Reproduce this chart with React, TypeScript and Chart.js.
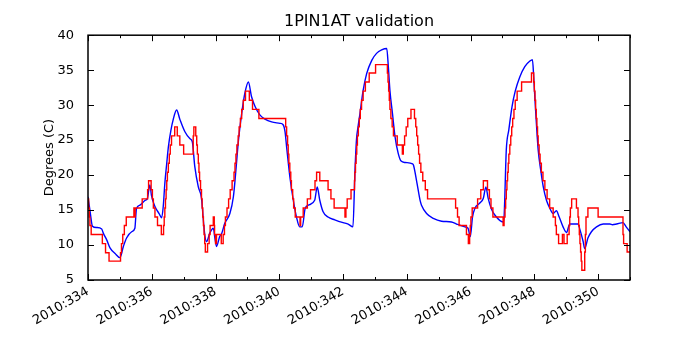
import { useEffect, useRef } from 'react';
import { Chart, registerables } from 'chart.js';

Chart.register(...registerables);

const chartTitle = '1PIN1AT validation';
const yAxisLabel = 'Degrees (C)';
const xTickDays = [334, 336, 338, 340, 342, 344, 346, 348, 350];
const yTickValues = [5, 10, 15, 20, 25, 30, 35, 40];

const redDays = [
  334.00, 334.02, 334.04, 334.06, 334.10, 334.45, 334.55, 334.66, 335.02, 335.05,
  335.09, 335.14, 335.20, 335.44, 335.46, 335.48, 335.70, 335.87, 335.90, 335.98,
  336.02, 336.05, 336.10, 336.18, 336.30, 336.37, 336.39, 336.41, 336.43, 336.45,
  336.47, 336.49, 336.52, 336.55, 336.58, 336.62, 336.72, 336.80, 336.88, 337.00,
  337.30, 337.32, 337.38, 337.41, 337.43, 337.46, 337.48, 337.50, 337.53, 337.56,
  337.58, 337.60, 337.62, 337.64, 337.66, 337.68, 337.75, 337.80, 337.83, 337.93,
  337.96, 337.97, 338.00, 338.03, 338.18, 338.24, 338.28, 338.31, 338.36, 338.41,
  338.46, 338.52, 338.58, 338.61, 338.64, 338.67, 338.71, 338.74, 338.78, 338.82,
  338.87, 338.94, 339.06, 339.16, 339.36, 340.20, 340.23, 340.26, 340.28, 340.30,
  340.33, 340.36, 340.38, 340.42, 340.45, 340.50, 340.65, 340.67, 340.75, 340.88,
  340.98, 341.12, 341.17, 341.27, 341.53, 341.62, 341.72, 342.06, 342.09, 342.13,
  342.25, 342.36, 342.37, 342.39, 342.41, 342.43, 342.45, 342.48, 342.51, 342.54,
  342.58, 342.63, 342.70, 342.82, 343.02, 343.39, 343.41, 343.43, 343.45, 343.47,
  343.50, 343.54, 343.58, 343.70, 343.86, 343.89, 343.93, 343.98, 344.03, 344.13,
  344.24, 344.28, 344.31, 344.34, 344.37, 344.40, 344.44, 344.50, 344.58, 344.65,
  345.53, 345.59, 345.64, 345.87, 345.93, 345.97, 345.99, 346.01, 346.05, 346.22,
  346.32, 346.40, 346.53, 346.59, 346.64, 346.70, 347.02, 347.05, 347.08, 347.10,
  347.12, 347.14, 347.16, 347.18, 347.20, 347.23, 347.26, 347.29, 347.32, 347.36,
  347.40, 347.46, 347.60, 347.91, 347.98, 348.00, 348.02, 348.04, 348.06, 348.08,
  348.10, 348.12, 348.15, 348.18, 348.22, 348.27, 348.33, 348.40, 348.48, 348.59,
  348.66, 348.69, 348.76, 348.88, 348.93, 349.03, 349.09, 349.11, 349.13, 349.17,
  349.32, 349.37, 349.39, 349.41, 349.43, 349.45, 349.47, 349.49, 349.58, 349.60,
  349.62, 349.68, 350.00, 350.78, 350.80, 350.91, 351.00,
];
const redValues = [
  16.6, 15.3, 14.0, 12.8, 11.5, 10.2, 8.9, 7.7, 8.9, 10.2,
  11.5, 12.8, 14.0, 15.3, 14.0, 15.3, 16.6, 17.9, 19.2, 17.9,
  16.6, 15.3, 14.0, 12.8, 11.5, 12.8, 14.0, 15.3, 16.6, 17.9,
  19.2, 20.4, 21.7, 23.0, 24.3, 25.6, 26.9, 25.6, 24.3, 23.0,
  25.6, 26.9, 25.6, 24.3, 23.0, 21.7, 20.4, 19.2, 17.9, 16.6,
  15.3, 14.0, 12.8, 11.5, 10.2, 9.0, 10.2, 11.5, 12.8, 14.0,
  12.8, 11.5, 10.2, 11.5, 10.2, 11.5, 12.8, 14.0, 15.3, 16.6,
  17.9, 19.2, 20.4, 21.7, 23.0, 24.3, 25.6, 26.9, 28.1, 29.4,
  30.7, 32.0, 30.7, 29.4, 28.1, 26.9, 25.6, 24.3, 23.0, 21.7,
  20.4, 19.2, 17.9, 16.6, 15.3, 14.0, 12.8, 14.0, 15.3, 16.6,
  17.9, 19.2, 20.4, 19.2, 17.9, 16.6, 15.3, 14.0, 15.3, 16.6,
  17.9, 19.2, 20.4, 21.7, 23.0, 24.3, 25.6, 26.9, 28.1, 29.4,
  30.7, 32.0, 33.3, 34.6, 35.8, 34.6, 33.3, 32.0, 30.7, 29.4,
  28.1, 26.9, 25.6, 24.3, 23.0, 24.3, 25.6, 26.9, 28.1, 29.4,
  28.1, 26.9, 25.6, 24.3, 23.0, 21.7, 20.4, 19.2, 17.9, 16.6,
  15.3, 14.0, 12.8, 11.5, 10.2, 11.5, 12.8, 14.0, 15.3, 16.6,
  17.9, 19.2, 17.9, 16.6, 15.3, 14.0, 12.8, 14.0, 15.3, 16.6,
  17.9, 19.2, 20.4, 21.7, 23.0, 24.3, 25.6, 26.9, 28.1, 29.4,
  30.7, 32.0, 33.3, 34.6, 33.3, 32.0, 30.7, 29.4, 28.1, 26.9,
  25.6, 24.3, 23.0, 21.7, 20.4, 19.2, 17.9, 16.6, 15.3, 14.0,
  12.8, 11.5, 10.2, 11.5, 10.2, 11.5, 12.8, 14.0, 15.3, 16.6,
  15.3, 14.0, 12.8, 11.5, 10.2, 9.0, 7.7, 6.4, 9.0, 11.5,
  14.0, 15.3, 14.0, 11.5, 10.2, 9.0, 9.0,
];

const blueDays = [
  334.00, 334.06, 334.14, 334.27, 334.43, 334.48, 334.59, 334.69, 334.85, 335.00,
  335.11, 335.21, 335.37, 335.47, 335.52, 335.63, 335.79, 335.86, 335.94, 335.99,
  336.10, 336.23, 336.31, 336.36, 336.41, 336.47, 336.52, 336.60, 336.67, 336.78,
  336.88, 337.04, 337.20, 337.27, 337.35, 337.46, 337.56, 337.61, 337.67, 337.72,
  337.82, 337.93, 337.98, 338.03, 338.13, 338.19, 338.29, 338.45, 338.56, 338.63,
  338.72, 338.82, 338.92, 339.03, 339.13, 339.24, 339.39, 339.55, 339.76, 340.02,
  340.12, 340.18, 340.23, 340.33, 340.44, 340.54, 340.64, 340.72, 340.81, 340.91,
  341.11, 341.19, 341.27, 341.37, 341.53, 341.74, 342.00, 342.16, 342.31, 342.37,
  342.42, 342.47, 342.53, 342.63, 342.74, 342.90, 343.05, 343.21, 343.37, 343.42,
  343.47, 343.55, 343.63, 343.73, 343.82, 343.95, 344.18, 344.21, 344.32, 344.42,
  344.46, 344.62, 344.83, 345.09, 345.40, 345.56, 345.82, 345.92, 345.99, 346.06,
  346.13, 346.29, 346.40, 346.48, 346.55, 346.65, 346.76, 347.02, 347.05, 347.12,
  347.20, 347.30, 347.40, 347.54, 347.70, 347.86, 347.94, 347.98, 348.02, 348.07,
  348.12, 348.20, 348.28, 348.38, 348.49, 348.59, 348.69, 348.78, 348.90, 349.01,
  349.11, 349.37, 349.43, 349.53, 349.58, 349.68, 349.79, 349.95, 350.16, 350.37,
  350.45, 350.58, 350.78, 350.88, 351.00,
];
const blueValues = [
  16.9, 15.0, 12.7, 12.5, 12.3, 11.7, 10.7, 9.6, 8.8, 8.2,
  9.8, 11.0, 11.9, 12.4, 15.2, 15.7, 16.4, 16.6, 18.6, 17.1,
  15.5, 14.5, 13.9, 15.5, 18.8, 21.7, 24.0, 26.4, 27.9, 29.3,
  28.0, 26.2, 25.2, 24.8, 21.2, 18.3, 16.7, 14.0, 11.2, 10.5,
  11.7, 12.4, 11.0, 9.8, 11.2, 11.6, 13.1, 14.5, 16.9, 20.2,
  25.0, 28.8, 31.7, 33.3, 31.2, 29.8, 28.6, 28.0, 27.6, 27.4,
  27.2, 26.2, 24.0, 19.8, 16.4, 14.0, 12.6, 12.6, 15.2, 15.7,
  16.4, 18.3, 16.4, 14.8, 14.0, 13.6, 13.2, 13.0, 12.6, 20.2,
  25.0, 26.9, 28.8, 32.1, 34.5, 36.4, 37.4, 37.9, 38.1, 35.5,
  32.1, 28.8, 25.5, 23.1, 22.0, 21.8, 21.6, 21.4, 18.8, 16.3,
  15.7, 14.5, 13.8, 13.4, 13.3, 13.0, 12.6, 12.4, 11.2, 14.0,
  15.2, 16.0, 16.7, 18.3, 16.7, 15.2, 14.3, 13.3, 14.0, 23.6,
  26.5, 29.8, 32.0, 34.0, 35.5, 36.3, 36.5, 34.0, 30.7, 26.9,
  23.6, 20.7, 18.3, 16.4, 15.2, 14.5, 14.9, 14.0, 12.6, 11.8,
  13.0, 13.0, 12.2, 10.5, 9.5, 11.0, 11.9, 12.6, 13.0, 13.0,
  12.9, 13.0, 13.2, 12.6, 11.9,
];

const FONT = 'DejaVu Sans';

const frameAndTicks = {
  id: 'frameAndTicks',
  afterDraw(chart: any) {
    const { ctx, chartArea } = chart;
    const { left, right, top, bottom } = chartArea;
    const xs = chart.scales.x;
    const ys = chart.scales.y;
    ctx.save();
    ctx.strokeStyle = '#000';
    ctx.lineWidth = 1;
    ctx.beginPath();
    for (let d = Math.ceil(xs.min); d <= xs.max; d++) {
      const px = Math.round(xs.getPixelForValue(d)) + 0.5;
      const len = xTickDays.includes(d) ? 6 : 3;
      ctx.moveTo(px, bottom);
      ctx.lineTo(px, bottom - len);
      ctx.moveTo(px, top);
      ctx.lineTo(px, top + len);
    }
    for (const v of yTickValues) {
      const py = Math.round(ys.getPixelForValue(v)) + 0.5;
      ctx.moveTo(left, py);
      ctx.lineTo(left + 6, py);
      ctx.moveTo(right, py);
      ctx.lineTo(right - 6, py);
    }
    ctx.stroke();
    ctx.lineWidth = 1.5;
    ctx.strokeRect(left, top, right - left, bottom - top);
    ctx.restore();
  },
};

export default function App() {
  const ref = useRef<HTMLCanvasElement | null>(null);
  useEffect(() => {
    if (!ref.current) return;
    Chart.defaults.color = '#000';
    const chart = new Chart(ref.current, {
      type: 'line',
      data: {
        datasets: [
          {
            label: 'model',
            data: redDays.map((d, i) => ({ x: d, y: redValues[i] })),
            borderColor: '#ff0000',
            borderWidth: 1.4,
            pointRadius: 0,
            stepped: 'before',
            fill: false,
          },
          {
            label: 'telemetry',
            data: blueDays.map((d, i) => ({ x: d, y: blueValues[i] })),
            borderColor: '#0000ff',
            borderWidth: 1.4,
            pointRadius: 0,
            cubicInterpolationMode: 'monotone',
            fill: false,
          },
        ],
      },
      options: {
        responsive: false,
        animation: false,
        events: [],
        layout: { padding: { left: 0, right: 70, top: 0, bottom: 0 } },
        plugins: {
          legend: { display: false },
          tooltip: { enabled: false },
          title: {
            display: true,
            text: chartTitle,
            fullSize: false,
            color: '#000',
            font: { family: FONT, size: 16, weight: 'normal' },
            padding: { top: 12, bottom: 4 },
          },
        },
        scales: {
          x: {
            type: 'linear',
            min: 334,
            max: 351,
            grid: { display: false },
            border: { display: false },
            afterFit: (s: any) => { s.height = 70; },
            afterBuildTicks: (s: any) => { s.ticks = xTickDays.map((v) => ({ value: v })); },
            ticks: {
              autoSkip: false,
              minRotation: 30,
              maxRotation: 30,
              padding: -4,
              color: '#000',
              font: { family: FONT, size: 13 },
              callback: (v: any) => '2010:' + v,
            },
          },
          y: {
            min: 5,
            max: 40,
            grid: { display: false },
            border: { display: false },
            afterFit: (s: any) => { s.width = 88; },
            afterBuildTicks: (s: any) => { s.ticks = yTickValues.map((v) => ({ value: v })); },
            title: {
              display: true,
              text: yAxisLabel,
              color: '#000',
              font: { family: FONT, size: 13 },
              padding: { top: 42, bottom: 0 },
            },
            ticks: {
              padding: 6,
              color: '#000',
              font: { family: FONT, size: 13 },
            },
          },
        },
      },
      plugins: [frameAndTicks],
    });
    return () => chart.destroy();
  }, []);
  return (
    <div style={{ position: 'absolute', left: 0, top: 0, width: 700, height: 350, background: '#fff' }}>
      <canvas ref={ref} width={700} height={350} />
    </div>
  );
}
